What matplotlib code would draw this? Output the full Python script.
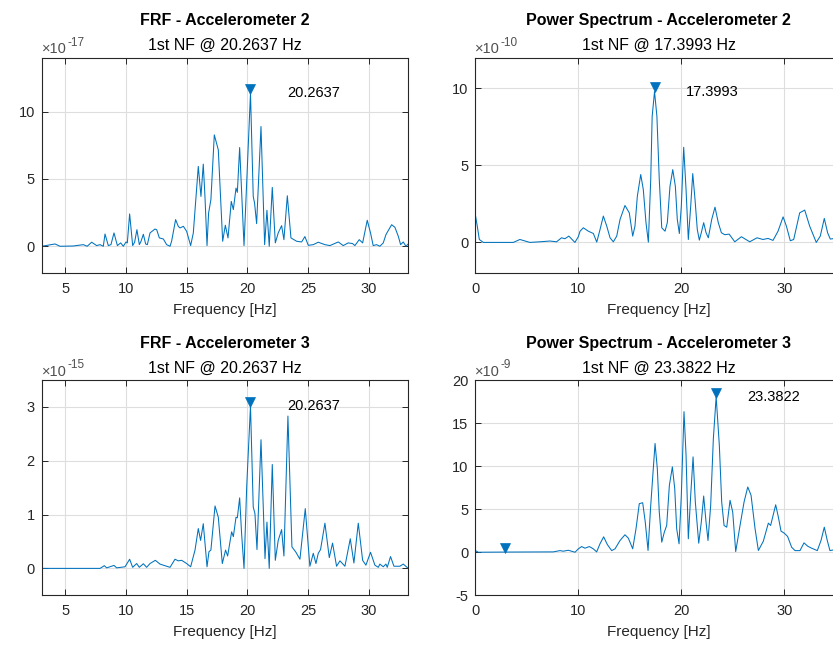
import matplotlib
matplotlib.use("Agg")
import matplotlib.pyplot as plt
import matplotlib.transforms as mtransforms

plt.rcParams["font.family"] = ["Liberation Sans", "DejaVu Sans"]
plt.rcParams["axes.unicode_minus"] = False

# ---------------- data ----------------
# FRF - Accelerometer 2 (x 1e-17)
frf2_f = [3.05, 4.15, 4.56, 5.66, 6.48, 6.8, 7.17, 7.58, 7.86, 8.13, 8.27, 8.54, 8.76, 9.01, 9.29,
          9.56, 9.78, 10.0, 10.11, 10.3, 10.55, 10.71, 10.9, 11.1, 11.24, 11.43, 11.62, 11.76, 11.98,
          12.39, 12.53, 12.75, 13.08, 13.35, 13.63, 13.76, 14.09, 14.31, 14.45, 14.73, 15.0, 15.33,
          15.55, 15.96, 16.18, 16.37, 16.51, 16.68, 16.81, 17.0, 17.28, 17.61, 17.97, 18.19, 18.41,
          18.68, 18.85, 19.07, 19.18, 19.37, 19.73, 20.2637, 20.49, 20.6, 20.77, 21.13, 21.43, 21.62,
          21.81, 22.06, 22.31, 22.55, 22.83, 23.02, 23.3, 23.6, 24.07, 24.48, 24.75, 25.03, 25.44,
          25.85, 26.4, 26.81, 27.5, 27.91, 28.32, 28.68, 28.87, 29.23, 29.51, 29.89, 30.16, 30.38,
          30.66, 30.93, 31.21, 31.43, 31.9, 32.17, 32.45, 32.64, 32.86, 33.08, 33.27]
frf2_a = [0.0, 0.17, 0.0, 0.02, 0.12, 0.0, 0.3, 0.05, 0.12, 0.0, 0.91, 0.05, 0.12, 0.99, 0.05,
          0.25, 0.0, 0.32, 0.25, 2.4, 0.05, 0.3, 1.23, 0.12, 0.37, 0.89, 0.17, 0.12, 0.99,
          1.28, 1.23, 0.62, 0.54, 0.12, 0.0, 0.37, 1.98, 1.48, 1.36, 1.48, 1.11, 0.05,
          0.99, 5.93, 3.7, 6.1, 3.7, 0.05, 2.47, 3.46, 8.27, 7.16, 0.37, 1.56, 0.62,
          3.33, 2.72, 4.32, 4.0, 7.33, 0.05, 11.36, 3.7, 3.2, 1.68, 8.89, 0.12, 2.67,
          0.0, 4.37, 0.25, 0.99, 1.53, 0.49, 3.75, 0.62, 0.37, 0.32, 0.72, 0.07, 0.12,
          0.3, 0.12, 0.05, 0.32, 0.05, 0.25, 0.2, 0.05, 0.49, 0.25, 1.93, 0.99, 0.05,
          0.12, 0.0, 0.25, 0.86, 1.6, 1.41, 0.74, 0.12, 0.32, 0.0, 0.17]

# Power Spectrum - Accelerometer 2 (x 1e-10)
ps2_f = [0.0, 0.19, 0.39, 0.78, 2.07, 3.69, 4.33, 5.3, 6.27, 7.24, 7.89, 8.37, 8.7, 9.08, 9.67,
         10.0, 10.17, 10.49, 10.97, 11.46, 11.79, 12.11, 12.43, 12.76, 13.08, 13.4, 13.73, 14.05,
         14.53, 14.95, 15.28, 15.5, 15.73, 16.06, 16.31, 16.57, 16.8, 17.03, 17.17, 17.3993, 17.63,
         17.86, 18.1, 18.42, 18.64, 18.9, 19.17, 19.42, 19.61, 19.81, 20.0, 20.23, 20.46, 20.68,
         20.91, 21.11, 21.33, 21.55, 21.75, 21.94, 22.17, 22.4, 22.62, 22.95, 23.27, 23.59,
         23.89, 24.22, 24.64, 25.19, 25.83, 26.64, 27.35, 27.93, 28.42, 28.9, 29.39, 29.88, 30.2,
         30.58, 30.91, 31.49, 31.98, 32.46, 33.1, 33.49, 33.88, 34.2, 34.46, 34.72, 35.5]
ps2_a = [1.81, 1.06, 0.19, 0.0, 0.0, 0.0, 0.19, 0.0, 0.04, 0.09, 0.04, 0.3, 0.24, 0.41, 0.0,
         0.37, 0.73, 0.95, 0.73, 0.58, 0.02, 0.84, 1.71, 1.06, 0.3, 0.04, 0.41, 1.49,
         2.4, 1.92, 0.41, 1.06, 3.0, 4.41, 3.43, 1.28, 0.02, 4.08, 8.19, 9.8, 8.19,
         4.08, 0.95, 0.73, 1.28, 3.65, 4.73, 3.65, 1.49, 0.58, 2.35, 6.18, 3.43, 0.19,
         2.35, 4.47, 2.79, 0.84, 0.15, 0.63, 1.28, 0.63, 0.3, 1.49, 2.29, 1.28,
         0.63, 0.5, 0.54, 0.04, 0.37, 0.04, 0.3, 0.19, 0.26, 0.13, 0.73, 1.66, 1.06,
         0.11, 0.19, 1.92, 2.1, 1.06, 0.0, 0.41, 1.56, 0.63, 0.22, 0.24, 0.3]

# FRF - Accelerometer 3 (x 1e-15)
frf3_f = [3.05, 7.86, 8.21, 8.41, 9.01, 9.23, 9.92, 10.3, 10.55, 10.88, 11.1, 11.43, 11.7, 11.98,
          12.42, 12.8, 13.21, 13.63, 14.04, 14.31, 14.59, 15.0, 15.33, 15.69, 15.96, 16.15, 16.37,
          16.54, 16.68, 16.84, 17.0, 17.34, 17.61, 17.94, 18.21, 18.38, 18.71, 18.85, 19.07, 19.18,
          19.37, 19.53, 19.73, 19.95, 20.2637, 20.49, 20.63, 20.8, 21.13, 21.46, 21.62, 21.81, 22.06,
          22.31, 22.55, 22.83, 23.02, 23.35, 23.68, 24.01, 24.34, 24.78, 25.16, 25.44, 25.66, 25.85,
          26.04, 26.4, 26.76, 27.03, 27.36, 27.64, 28.05, 28.49, 28.79, 29.15, 29.51, 29.78, 30.16,
          30.52, 30.8, 30.93, 31.21, 31.43, 31.54, 31.81, 32.09, 32.58, 32.86, 33.27]
frf3_a = [0.0, 0.0, 0.05, 0.01, 0.055, 0.01, 0.03, 0.17, 0.02, 0.09, 0.02, 0.086, 0.02, 0.09,
          0.15, 0.08, 0.05, 0.02, 0.17, 0.14, 0.15, 0.09, 0.03, 0.34, 0.74, 0.52, 0.83,
          0.4, 0.03, 0.31, 0.34, 1.16, 0.95, 0.09, 0.34, 0.23, 0.68, 0.59, 0.95, 0.94,
          1.31, 0.65, 0.0, 1.51, 3.02, 1.14, 1.02, 0.35, 2.39, 0.18, 0.86, 0.0, 1.93,
          0.15, 0.52, 0.72, 0.23, 2.83, 0.4, 0.3, 0.17, 1.11, 0.04, 0.28, 0.09, 0.28,
          0.35, 0.84, 0.2, 0.47, 0.04, 0.14, 0.04, 0.55, 0.1, 0.84, 0.15, 0.06, 0.3,
          0.06, 0.02, 0.08, 0.03, 0.08, 0.02, 0.22, 0.04, 0.04, 0.08, 0.0]

# Power Spectrum - Accelerometer 3 (x 1e-9)
ps3_f = [0.0, 0.29, 2.9, 7.57, 8.22, 8.54, 9.03, 9.68, 10.0, 10.32, 10.65, 11.07, 11.46, 11.78,
         12.1, 12.46, 12.82, 13.24, 13.56, 14.05, 14.53, 14.86, 15.28, 15.6, 15.92, 16.25, 16.5,
         16.77, 17.03, 17.45, 17.67, 17.86, 18.1, 18.35, 18.58, 18.84, 19.13, 19.36, 19.55, 19.78,
         20.0, 20.26, 20.46, 20.68, 20.91, 21.14, 21.36, 21.69, 21.94, 22.17, 22.4, 22.59, 22.85,
         23.11, 23.3822, 23.69, 23.92, 24.15, 24.41, 24.73, 24.99, 25.28, 25.7, 26.09, 26.45,
         26.77, 27.16, 27.48, 27.96, 28.45, 28.67, 28.87, 29.16, 29.42, 29.68, 30.0, 30.32, 30.71,
         31.04, 31.52, 31.91, 32.27, 32.65, 33.2, 33.56, 33.88, 34.17, 34.43, 34.76, 35.5]
ps3_a = [0.2, 0.0, 0.02, 0.04, 0.19, 0.12, 0.23, 0.0, 0.39, 0.66, 0.47, 0.66, 0.39, 0.04,
         0.97, 1.79, 0.89, 0.19, 0.39, 1.36, 2.03, 1.63, 0.4, 2.72, 5.64, 5.75, 3.5,
         0.2, 5.44, 12.63, 9.72, 4.66, 1.17, 2.33, 3.11, 7.77, 9.91, 7.39, 2.72, 0.98,
         6.61, 16.32, 11.27, 1.56, 6.61, 11.07, 5.83, 1.05, 3.5, 6.53, 3.5, 1.36, 5.44,
         13.2, 18.06, 12.43, 5.83, 3.11, 2.91, 6.03, 4.66, 0.08, 3.11, 5.83, 7.58,
         6.61, 2.72, 0.2, 1.28, 3.38, 3.11, 4.08, 5.51, 4.08, 2.45, 2.21, 1.83, 0.58,
         0.19, 0.19, 1.09, 0.7, 0.47, 0.19, 1.36, 2.91, 1.36, 0.19, 0.27, 0.3]

# detected peaks (frequency, height)
frf2_pk_f, frf2_pk_a = [20.2637], [11.36]
ps2_pk_f, ps2_pk_a = [17.3993], [9.8]
frf3_pk_f, frf3_pk_a = [20.2637], [3.02]
ps3_pk_f, ps3_pk_a = [2.9, 23.3822], [0.02, 18.06]

panels = [
    dict(title="FRF - Accelerometer 2", f=frf2_f, a=frf2_a, pf=frf2_pk_f, pa=frf2_pk_a,
         nf=20.2637, exp=-17, xlim=(3.05, 33.25), ylim=(-2, 14), yt=[0, 5, 10],
         xt=[5, 10, 15, 20, 25, 30]),
    dict(title="Power Spectrum - Accelerometer 2", f=ps2_f, a=ps2_a, pf=ps2_pk_f, pa=ps2_pk_a,
         nf=17.3993, exp=-10, xlim=(0, 35.56), ylim=(-2, 12), yt=[0, 5, 10],
         xt=[0, 10, 20, 30]),
    dict(title="FRF - Accelerometer 3", f=frf3_f, a=frf3_a, pf=frf3_pk_f, pa=frf3_pk_a,
         nf=20.2637, exp=-15, xlim=(3.05, 33.25), ylim=(-0.5, 3.5), yt=[0, 1, 2, 3],
         xt=[5, 10, 15, 20, 25, 30]),
    dict(title="Power Spectrum - Accelerometer 3", f=ps3_f, a=ps3_a, pf=ps3_pk_f, pa=ps3_pk_a,
         nf=23.3822, exp=-9, xlim=(0, 35.56), ylim=(-5, 20), yt=[-5, 0, 5, 10, 15, 20],
         xt=[0, 10, 20, 30]),
]

W, H = 833, 645
fig = plt.figure(figsize=(W / 100, H / 100), dpi=100)

# axes boxes in pixels: (left, top, width, height)
boxes = [(41.7, 57.7, 366.3, 215.5), (475.3, 57.7, 366.3, 215.5),
         (41.7, 380.0, 366.3, 215.3), (475.3, 380.0, 366.3, 215.3)]

LINE = "#0072BD"
TXT = "#262626"

for p, (l, t, w, h) in zip(panels, boxes):
    ax = fig.add_axes([l / W, (H - t - h) / H, w / W, h / H])
    ax.plot(p["f"], p["a"], color=LINE, lw=0.75, solid_joinstyle="round")
    # peak markers, tip resting on the peak
    trans = mtransforms.offset_copy(ax.transData, fig=fig, x=0, y=3.0, units="points")
    ax.plot(p["pf"], p["pa"], ls="none", marker="v", ms=6.5, color=LINE,
            markeredgewidth=0.5, transform=trans, clip_on=False)
    ax.text(p["nf"] + 3, p["pa"][-1], f"{p['nf']:.4f}", ha="left", va="center",
            fontsize=10.5, color="black")

    ax.set_xlim(*p["xlim"])
    ax.set_ylim(*p["ylim"])
    ax.set_xticks(p["xt"])
    ax.set_yticks(p["yt"])
    ax.grid(True, color="#dedede", lw=0.8)
    ax.set_axisbelow(True)
    ax.tick_params(direction="in", top=True, right=True, length=4, width=0.7,
                   colors=TXT, labelsize=10.5, labelcolor=TXT)
    ax.tick_params(axis="x", pad=6)
    ax.tick_params(axis="y", pad=5)
    for s in ax.spines.values():
        s.set_color(TXT)
        s.set_linewidth(0.8)

    ax.annotate(p["title"], xy=(0.5, 1), xycoords="axes fraction", xytext=(0, 23.3),
                textcoords="offset points", ha="center", va="baseline",
                fontsize=11.5, fontweight="bold", color="black")
    ax.annotate(f"1st NF @ {p['nf']:.4f} Hz", xy=(0.5, 1), xycoords="axes fraction",
                xytext=(0, 5.5), textcoords="offset points", ha="center", va="baseline",
                fontsize=11.5, color="black")
    # axis exponent: "×10" followed by a raised power
    base = ax.annotate("×10", xy=(0, 1), xycoords="axes fraction",
                       xytext=(0, 3.2), textcoords="offset points", ha="left", va="baseline",
                       fontsize=10.5, color="#505050")
    ax.annotate(f"{p['exp']}", xy=(1, 0.55), xycoords=base, xytext=(0.5, 0),
                textcoords="offset points", ha="left", va="bottom",
                fontsize=8.5, color="#505050")
    ax.annotate("Frequency [Hz]", xy=(0.5, 0), xycoords="axes fraction", xytext=(0, -26.6),
                textcoords="offset points", ha="center", va="center",
                fontsize=11, color=TXT)

fig.savefig("out.png", dpi=100)
